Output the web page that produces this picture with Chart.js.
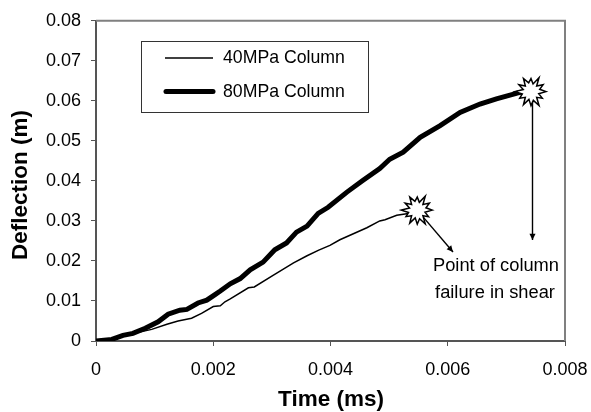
<!DOCTYPE html>
<html>
<head>
<meta charset="utf-8">
<title>Deflection vs time</title>
<script src="https://cdn.jsdelivr.net/npm/chart.js@4"></script>
<style>
  html, body { margin: 0; padding: 0; background: #fff; }
  canvas { display: block; }
</style>
</head>
<body>
<canvas id="chart" width="591" height="412"></canvas>
<script>
// valores
const time40 = [0, 0.00027, 0.00046, 0.00063, 0.00095, 0.00121, 0.0014, 0.00163, 0.0018, 0.002, 0.00212, 0.0022, 0.00229, 0.0026, 0.0027, 0.00302, 0.00337, 0.0036, 0.0038, 0.00399, 0.00416, 0.00462, 0.00484, 0.00493, 0.00513, 0.0053, 0.00545];
const defl40 = [0, 0.0004, 0.0013, 0.0019, 0.0029, 0.0042, 0.005, 0.0057, 0.0069, 0.0086, 0.0088, 0.0098, 0.0105, 0.0133, 0.0135, 0.0164, 0.0195, 0.0213, 0.0227, 0.0239, 0.0253, 0.0283, 0.03, 0.0303, 0.0314, 0.0318, 0.0322];
const time80 = [0, 0.00027, 0.00046, 0.00063, 0.00084, 0.00106, 0.00123, 0.00143, 0.00155, 0.00174, 0.00189, 0.00203, 0.00212, 0.00229, 0.00246, 0.00263, 0.00285, 0.00305, 0.00325, 0.00342, 0.0036, 0.00379, 0.00396, 0.00428, 0.00455, 0.00484, 0.00501, 0.00524, 0.00553, 0.00587, 0.00621, 0.00655, 0.00683, 0.0072, 0.00735];
const defl80 = [0, 0.0004, 0.0014, 0.0019, 0.0032, 0.0048, 0.0067, 0.0077, 0.0079, 0.0095, 0.0102, 0.0116, 0.0125, 0.0143, 0.0156, 0.0178, 0.0197, 0.0228, 0.0245, 0.0272, 0.0287, 0.0319, 0.0334, 0.0372, 0.0401, 0.0431, 0.0454, 0.0472, 0.0509, 0.0538, 0.0571, 0.0592, 0.0605, 0.062, 0.0624];
const xTickLabels = ['0', '0.002', '0.004', '0.006', '0.008'];
const yTickLabels = ['0', '0.01', '0.02', '0.03', '0.04', '0.05', '0.06', '0.07', '0.08'];
const seriesLabels = ['40MPa Column', '80MPa Column'];
const failureTimes = [0.00548, 0.00742];
const failureDefl = [0.0327, 0.0623];
const noteLines = ['Point of column', 'failure in shear'];
const xTitle = 'Time (ms)';
const yTitle = 'Deflection (m)';

const FONT = '"Liberation Sans", Arial, sans-serif';
const burstRadii = [15, 8, 13, 8, 16, 9, 14, 8, 15, 8, 13, 9, 16, 8, 14, 8, 15, 9, 13, 8, 16, 8, 14, 9];

function toPoints(xs, ys) {
    return xs.map((x, i) => ({ x, y: ys[i] }));
}

function drawArrow(ctx, x1, y1, x2, y2) {
    const ang = Math.atan2(y2 - y1, x2 - x1);
    ctx.strokeStyle = '#000';
    ctx.fillStyle = '#000';
    ctx.lineWidth = 1.4;
    ctx.beginPath();
    ctx.moveTo(x1, y1);
    ctx.lineTo(x2, y2);
    ctx.stroke();
    ctx.beginPath();
    ctx.moveTo(x2, y2);
    ctx.lineTo(x2 - 7 * Math.cos(ang - 0.45), y2 - 7 * Math.sin(ang - 0.45));
    ctx.lineTo(x2 - 7 * Math.cos(ang + 0.45), y2 - 7 * Math.sin(ang + 0.45));
    ctx.closePath();
    ctx.fill();
}

function drawBurst(ctx, cx, cy) {
    ctx.beginPath();
    burstRadii.forEach((r, i) => {
        const a = i / burstRadii.length * Math.PI * 2;
        const px = cx + r * Math.cos(a);
        const py = cy + r * Math.sin(a);
        if (i === 0) ctx.moveTo(px, py); else ctx.lineTo(px, py);
    });
    ctx.closePath();
    ctx.fillStyle = '#fff';
    ctx.fill();
    ctx.strokeStyle = '#000';
    ctx.lineWidth = 1.5;
    ctx.lineJoin = 'miter';
    ctx.stroke();
}

// marco del area, titulos de ejes, leyenda, estrellas y flechas
const annotationsPlugin = {
    id: 'annotations',
    afterDatasetsDraw(chart) {
        const { ctx, chartArea: a, scales: { x, y } } = chart;
        ctx.save();

        ctx.strokeStyle = '#808080';
        ctx.lineWidth = 2;
        ctx.beginPath();
        ctx.moveTo(a.left, a.top);
        ctx.lineTo(a.right, a.top);
        ctx.lineTo(a.right, a.bottom);
        ctx.stroke();

        // flechas
        const topX = x.getPixelForValue(failureTimes[1]) + 1.5;
        drawArrow(ctx, topX, y.getPixelForValue(failureDefl[1]), topX, 240);
        drawArrow(ctx, x.getPixelForValue(failureTimes[0]), y.getPixelForValue(failureDefl[0]), 453, 252);

        failureTimes.forEach((t, i) => {
            drawBurst(ctx, x.getPixelForValue(t), y.getPixelForValue(failureDefl[i]));
        });

        ctx.fillStyle = '#000';
        ctx.textAlign = 'center';
        ctx.textBaseline = 'middle';

        ctx.font = '18.3px ' + FONT;
        ctx.fillText(noteLines[0], 496, 266);
        ctx.fillText(noteLines[1], 495, 293);

        // titulos de ejes
        ctx.font = 'bold 22.5px ' + FONT;
        ctx.fillText(xTitle, 331, 400);
        ctx.save();
        ctx.translate(21, 185);
        ctx.rotate(-Math.PI / 2);
        ctx.fillText(yTitle, 0, 0);
        ctx.restore();

        // leyenda
        ctx.fillStyle = '#fff';
        ctx.fillRect(141.5, 41.5, 227, 71);
        ctx.strokeStyle = '#333';
        ctx.lineWidth = 1;
        ctx.strokeRect(141.5, 41.5, 227, 71);
        const rows = [58, 91.5];
        ctx.font = '17.7px ' + FONT;
        chart.data.datasets.slice(0, 2).forEach((ds, i) => {
            ctx.strokeStyle = ds.borderColor;
            ctx.lineWidth = ds.borderWidth;
            ctx.lineCap = i === 0 ? 'butt' : 'round';
            ctx.beginPath();
            ctx.moveTo(i === 0 ? 165 : 166, rows[i]);
            ctx.lineTo(213, rows[i]);
            ctx.stroke();
            ctx.fillStyle = '#000';
            ctx.textAlign = 'left';
            ctx.fillText(ds.label, 223, rows[i] + 0.5);
        });
        ctx.restore();
    }
};

new Chart(document.getElementById('chart').getContext('2d'), {
    type: 'line',
    data: {
        datasets: [
            { label: seriesLabels[0], data: toPoints(time40, defl40), borderColor: '#000', borderWidth: 1.5, pointRadius: 0, tension: 0 },
            { label: seriesLabels[1], data: toPoints(time80, defl80), borderColor: '#000', borderWidth: 5, pointRadius: 0, tension: 0 }
        ]
    },
    options: {
        responsive: false,
        animation: false,
        layout: { padding: { top: 20, right: 26, left: 0, bottom: 0 } },
        plugins: { legend: { display: false }, tooltip: { enabled: false } },
        scales: {
            x: {
                type: 'linear',
                min: 0,
                max: 0.008,
                // el padding de los ticks no debe recortar el area por la derecha
                afterFit: s => { s.height = 71; s.paddingRight = 0; s.paddingLeft = 0; },
                afterBuildTicks: s => { s.ticks = xTickLabels.map(v => ({ value: Number(v) })); },
                border: { color: '#555', width: 2 },
                grid: { drawOnChartArea: false, tickLength: 5, color: '#555' },
                ticks: {
                    color: '#000',
                    padding: 13,
                    maxRotation: 0,
                    font: { family: FONT, size: 18 },
                    callback: (v, i) => xTickLabels[i]
                }
            },
            y: {
                type: 'linear',
                min: 0,
                max: 0.08,
                afterFit: s => { s.width = 96; },
                afterBuildTicks: s => { s.ticks = yTickLabels.map(v => ({ value: Number(v) })); },
                border: { color: '#555', width: 2 },
                grid: { drawOnChartArea: false, tickLength: 5, color: '#555' },
                ticks: {
                    color: '#000',
                    padding: 10,
                    font: { family: FONT, size: 18 },
                    callback: (v, i) => yTickLabels[i]
                }
            }
        }
    },
    plugins: [annotationsPlugin]
});
</script>
</body>
</html>
